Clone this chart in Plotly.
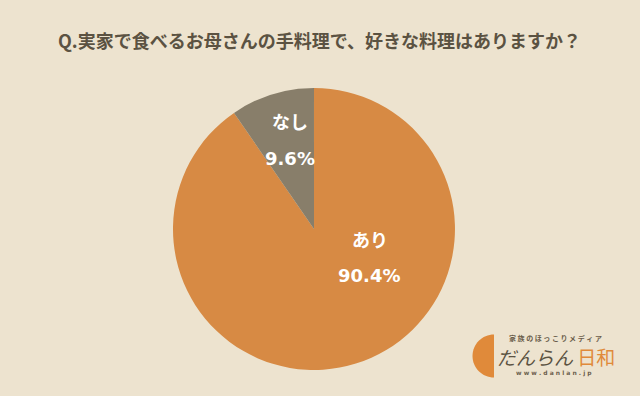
import plotly.graph_objects as go

labels = ["あり", "なし"]
values = [90.4, 9.6]
colors = ["#D78A44", "#887E6A"]
title = "Q.実家で食べるお母さんの手料理で、好きな料理はありますか？"

BG = "#EDE3CF"
FONT = "Noto Sans CJK JP"
LBLFONT = "DejaVu Sans, Noto Sans CJK JP"
W, H = 640, 396

def px(x, y):
    return x / W, 1 - y / H

def note(text, p, font):
    x, y = px(*p)
    fig.add_annotation(text=text, x=x, y=y, xref="paper", yref="paper",
                       xanchor="center", yanchor="middle", showarrow=False, font=font)

fig = go.Figure()
fig.add_trace(go.Pie(
    labels=labels, values=values, sort=False, direction="clockwise", rotation=0,
    marker=dict(colors=colors, line=dict(width=0)),
    textinfo="none",
    domain=dict(x=[0.2703, 0.7109], y=[0.0657, 0.7778]),
    showlegend=False, hoverinfo="label+percent",
))

# data labels (placed like the reference)
label_pos = [((370, 240), (369, 275)), ((290, 123), (290, 158))]
for lab, val, (p1, p2) in zip(labels, values, label_pos):
    note("<b>" + lab + "</b>", p1, dict(family=LBLFONT, size=18, color="white"))
    note("<b>%.1f%%</b>" % val, p2, dict(family=LBLFONT, size=18, color="white"))

note("<b>" + title + "</b>", (319, 40), dict(family=FONT, size=18, color="#5B5242"))

# logo
cx, cy = px(494, 356)
r_x, r_y = 21.5 / W, 21.5 / H
k = 0.5523
path = ("M {x0},{y0} C {x1},{y0} {x2},{y3} {x2},{yc} C {x2},{y4} {x1},{y5} {x0},{y5} Z").format(
    x0=cx, y0=cy + r_y, x1=cx - k * r_x, x2=cx - r_x, yc=cy,
    y3=cy + k * r_y, y4=cy - k * r_y, y5=cy - r_y)
fig.add_shape(type="path", xref="paper", yref="paper", path=path,
              fillcolor="#E08A3A", line=dict(width=0))
note("<b>家 族 の ほ っ こ り メ デ ィ ア</b>", (555, 338), dict(family=FONT, size=7, color="#6B5E4C"))
note("<i>だんらん</i><span style='color:#E08A3A'> 日和</span>", (556, 356),
     dict(family=FONT, size=19, color="#5B5242"))
note("<b>w w w . d a n l a n . j p</b>", (554, 373), dict(family="DejaVu Sans", size=6, color="#6B5E4C"))

fig.update_layout(width=W, height=H, margin=dict(l=0, r=0, t=0, b=0),
                  paper_bgcolor=BG, plot_bgcolor=BG)
fig.write_html("out.html", config={"displayModeBar": False},
               post_script="document.body.style.margin='0';document.body.style.background='%s';" % BG)
